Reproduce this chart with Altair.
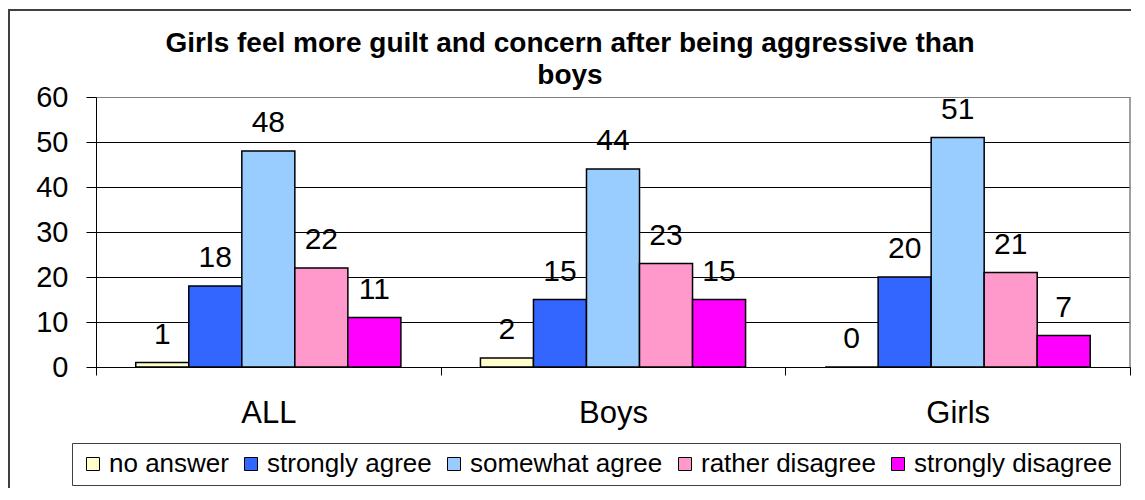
import altair as alt
import pandas as pd

groups = ["ALL", "Boys", "Girls"]
answers = ["no answer", "strongly agree", "somewhat agree", "rather disagree", "strongly disagree"]
all_vals = [1, 18, 48, 22, 11]
boys_vals = [2, 15, 44, 23, 15]
girls_vals = [0, 20, 51, 21, 7]
colors = ["#FFFFCC", "#3366FF", "#99CCFF", "#FF99CC", "#FF00FF"]
y_ticks = [0, 10, 20, 30, 40, 50, 60]
title_lines = ["Girls feel more guilt and concern after being aggressive than", "boys"]

rows = []
for g, vals in zip(groups, [all_vals, boys_vals, girls_vals]):
    for a, v in zip(answers, vals):
        rows.append({"group": g, "answer": a, "value": v})
df = pd.DataFrame(rows)

FONT = "Liberation Sans"
W, H = 1034, 270

x_enc = alt.X("group:N", sort=groups, title=None,
              scale=alt.Scale(paddingInner=0, paddingOuter=0),
              axis=alt.Axis(labelFontSize=31, labelColor="black", labelAngle=0,
                            tickBand="extent", tickSize=8, tickColor="black",
                            domainColor="black", labelPadding=23, grid=False))
xo_enc = alt.XOffset("answer:N", sort=answers,
                     scale=alt.Scale(paddingInner=0, paddingOuter=0.75))
y_enc = alt.Y("value:Q", title=None,
              scale=alt.Scale(domain=[0, 60], nice=False),
              axis=alt.Axis(values=y_ticks, labelFontSize=29, labelColor="black",
                            tickSize=10, tickColor="black", domainColor="black",
                            labelPadding=18, grid=True,
                            gridColor=alt.condition("datum.value == 60", alt.value("#808080"), alt.value("black")),
                            gridWidth=1))

frame_df = pd.DataFrame({"k": [0]})
frame_left = alt.Chart(frame_df).mark_rule(stroke="#404040", strokeWidth=2).encode(
    x=alt.value(-87), y=alt.value(-88), y2=alt.value(391))
frame_top = alt.Chart(frame_df).mark_rule(stroke="#404040", strokeWidth=2).encode(
    x=alt.value(-88), x2=alt.value(1035), y=alt.value(-87))
plot_right = alt.Chart(frame_df).mark_rule(stroke="#808080", strokeWidth=1.5).encode(
    x=alt.value(W), y=alt.value(0), y2=alt.value(H))

bars = alt.Chart(df).mark_bar(stroke="black", strokeWidth=1.5).encode(
    x=x_enc, xOffset=xo_enc, y=y_enc,
    color=alt.Color("answer:N", sort=answers,
                    scale=alt.Scale(domain=answers, range=colors),
                    legend=alt.Legend(title=None, orient="none", legendX=-24, legendY=346,
                                      direction="horizontal", strokeColor="#404040",
                                      padding=8, labelFontSize=26, labelColor="black",
                                      symbolType="square", symbolSize=169,
                                      symbolStrokeColor="black", symbolStrokeWidth=1,
                                      columnPadding=9, labelOffset=3, labelLimit=400)),
)

labels = alt.Chart(df).mark_text(dy=-19, fontSize=30, color="black", baseline="alphabetic").encode(
    x=x_enc, xOffset=xo_enc, y=y_enc, text="value:Q"
)

chart = alt.layer(frame_left, frame_top, plot_right, bars, labels).properties(
    width=W, height=H,
    title=alt.TitleParams(title_lines, fontSize=28, fontWeight="bold", font=FONT,
                          color="black", anchor="middle", frame="group", dx=-43,
                          offset=-82, lineHeight=32),
    autosize=alt.AutoSizeParams(type="none"),
    padding={"left": 88, "top": 89, "right": 7, "bottom": 121},
).configure(font=FONT).configure_view(strokeWidth=0).configure_axis(
    labelFont=FONT
).configure_legend(labelFont=FONT)

chart.save("out.html", embed_options={"renderer": "svg", "actions": False})
